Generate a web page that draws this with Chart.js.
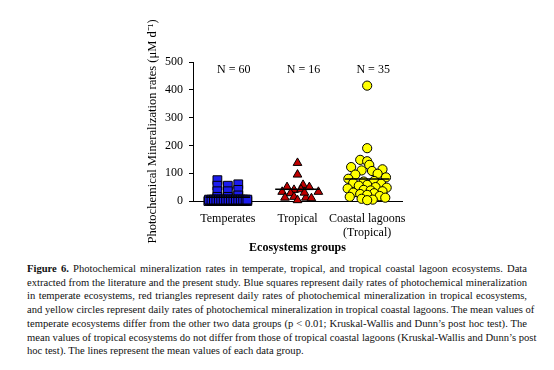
<!DOCTYPE html>
<html>
<head>
<meta charset="utf-8">
<script src="https://cdn.jsdelivr.net/npm/chart.js@4"></script>
<style>
  html, body { margin: 0; padding: 0; background: #ffffff; }
  #wrap { position: absolute; left: 0; top: 0; width: 554px; height: 255px; }
  #caption { position: absolute; left: 27px; top: 262px; width: 500px;
    font-family: "Liberation Serif", "Times New Roman", serif; font-size: 10.6px; line-height: 13.7px; color: #111; }
  #caption div { text-align: justify; text-align-last: justify; white-space: nowrap; }
  #caption div.last { text-align: left; text-align-last: left; }
</style>
</head>
<body>
<div id="wrap"><canvas id="c" width="554" height="255"></canvas></div>
<div id="caption">
  <div><b>Figure 6.</b> Photochemical mineralization rates in temperate, tropical, and tropical coastal lagoon ecosystems. Data</div>
  <div>extracted from the literature and the present study. Blue squares represent daily rates of photochemical mineralization</div>
  <div>in temperate ecosystems, red triangles represent daily rates of photochemical mineralization in tropical ecosystems,</div>
  <div>and yellow circles represent daily rates of photochemical mineralization in tropical coastal lagoons. The mean values of</div>
  <div>temperate ecosystems differ from the other two data groups (p &lt; 0.01; Kruskal-Wallis and Dunn’s post hoc test). The</div>
  <div>mean values of tropical ecosystems do not differ from those of tropical coastal lagoons (Kruskal-Wallis and Dunn’s post</div>
  <div class="last">hoc test). The lines represent the mean values of each data group.</div>
</div>
<script>
// ---- data ----
const categories = ['Temperates', 'Tropical', ['Coastal lagoons', '(Tropical)']];
const nLabels = ['N = 60', 'N = 16', 'N = 35'];
const yTicks = [0, 100, 200, 300, 400, 500];
const groupMeans = [14, 42, 79];

// Temperate ecosystems (60 values) and their horizontal jitter within the group
const temperateValues = [
  75, 55, 35, 15,
  55, 35, 15,
  60, 40, 20,
  0, 0, 0, 0, 0, 0, 0, 0, 0, 0, 0, 0, 0, 0, 0, 0, 0,
  2, 2, 2, 2, 2, 2, 2, 2, 2, 2, 2, 2, 2, 2, 2, 2,
  5, 5, 5, 5, 5, 5, 5, 5, 5, 5, 5, 5, 5, 5, 5, 5, 5
];
const temperateJitter = [
  -0.15, -0.15, -0.15, -0.15,
  0, 0, 0,
  0.15, 0.15, 0.15,
  -0.28, -0.245, -0.21, -0.175, -0.14, -0.105, -0.07, -0.035, 0, 0.035, 0.07, 0.105, 0.14, 0.175, 0.21, 0.245, 0.28,
  -0.26, -0.225, -0.19, -0.155, -0.12, -0.085, -0.05, -0.015, 0.02, 0.055, 0.09, 0.125, 0.16, 0.195, 0.23, 0.265,
  -0.27, -0.235, -0.2, -0.165, -0.13, -0.095, -0.06, -0.025, 0.01, 0.045, 0.08, 0.115, 0.15, 0.185, 0.22, 0.255, 0.28
];

// Tropical ecosystems (16 values)
const tropicalValues = [137, 95, 50, 58, 50, 33, 40, 42, 33, 28, 12, 15, 3, 12, 10, 30];
const tropicalJitter = [0, 0, -0.15, 0.08, 0.17, -0.22, -0.05, 0.05, 0.3, -0.1, -0.18, -0.05, 0, 0.12, 0.2, 0.1];

// Tropical coastal lagoons (35 values)
const lagoonValues = [415, 190, 148, 143, 130, 122, 114, 110, 108, 98, 95, 85, 80, 72, 70, 65, 62, 58,
  55, 50, 48, 45, 40, 38, 35, 30, 28, 25, 22, 18, 15, 12, 8, 5, 3];
const lagoonJitter = [0, 0, -0.1, 0, 0.03, -0.23, 0.22, -0.08, 0.07, 0.15, -0.17, 0.27, -0.27, 0.1, -0.05,
  -0.2, 0.2, 0, -0.12, 0.12, 0.28, -0.28, -0.05, 0.05, 0.22, -0.2, 0.1, -0.1, 0, 0.18, -0.25, 0.26, -0.08, 0.08, 0];

const meanHalfWidth = 0.32;

// ---- build datasets ----
function pts(values, jitter, groupIndex) {
  return values.map((v, i) => ({ x: groupIndex + 1 + jitter[i], y: v }));
}
function meanLine(g) {
  return [{ x: g + 1 - meanHalfWidth, y: groupMeans[g] }, { x: g + 1 + meanHalfWidth, y: groupMeans[g] }];
}

const serif = '"Liberation Serif", "Times New Roman", serif';

const nLabelPlugin = {
  id: 'nLabels',
  afterDatasetsDraw(chart) {
    const ctx = chart.ctx, xs = chart.scales.x, ys = chart.scales.y;
    ctx.save();
    ctx.font = '12px ' + serif;
    ctx.fillStyle = '#000';
    ctx.textAlign = 'center';
    ctx.textBaseline = 'middle';
    nLabels.forEach((t, i) => {
      ctx.fillText(t, xs.getPixelForValue(i + 1) + 6, ys.top + 8);
    });
    ctx.restore();
  }
};

const pointStyleCommon = { showLine: false, borderColor: '#000', borderWidth: 1, clip: false, order: 2 };

new Chart(document.getElementById('c'), {
  type: 'scatter',
  data: {
    datasets: [
      { data: meanLine(0), type: 'line', borderColor: '#000', borderWidth: 1.6, pointRadius: 0, clip: false, order: 0 },
      { data: meanLine(1), type: 'line', borderColor: '#000', borderWidth: 1.6, pointRadius: 0, clip: false, order: 0 },
      { data: meanLine(2), type: 'line', borderColor: '#000', borderWidth: 1.6, pointRadius: 0, clip: false, order: 0 },
      Object.assign({ data: pts(temperateValues, temperateJitter, 0), backgroundColor: '#1c1cee', pointStyle: 'rect', pointRadius: 6.2 }, pointStyleCommon),
      Object.assign({ data: pts(tropicalValues, tropicalJitter, 1), backgroundColor: '#c00000', pointStyle: 'triangle', pointRadius: 5 }, pointStyleCommon),
      Object.assign({ data: pts(lagoonValues, lagoonJitter, 2), backgroundColor: '#ffff00', pointStyle: 'circle', pointRadius: 4.6 }, pointStyleCommon)
    ]
  },
  options: {
    responsive: false,
    animation: false,
    events: [],
    layout: { padding: { left: 145, right: 152, top: 62, bottom: 0 } },
    plugins: { legend: { display: false }, tooltip: { enabled: false } },
    scales: {
      x: {
        type: 'linear', min: 0.5, max: 3.5,
        afterBuildTicks(scale) { scale.ticks = categories.map((c, i) => ({ value: i + 1 })); },
        afterFit(scale) { scale.height = 54; },
        grid: { display: false },
        border: { display: true, color: '#000', width: 1 },
        ticks: {
          callback: (v) => categories[Math.round(v) - 1],
          color: '#000', font: { family: serif, size: 12, lineHeight: 1.17 }, padding: 3, maxRotation: 0, autoSkip: false
        },
        title: { display: true, text: 'Ecosystems groups', color: '#000', font: { family: serif, size: 12, weight: 'bold' }, padding: { top: 0, bottom: 0 } }
      },
      y: {
        min: 0, max: 500,
        afterBuildTicks(scale) { scale.ticks = yTicks.map(v => ({ value: v })); },
        afterFit(scale) { scale.width = 48; },
        grid: { drawOnChartArea: false, drawTicks: true, tickLength: 4, color: '#000' },
        border: { display: true, color: '#000', width: 1 },
        ticks: { color: '#000', font: { family: serif, size: 12 }, padding: 6 },
        title: { display: true, text: 'Photochemical Mineralization rates (μM d⁻¹)', color: '#000', font: { family: serif, size: 12.5 }, padding: { top: 0, bottom: 0 } }
      }
    }
  },
  plugins: [nLabelPlugin]
});
</script>
</body>
</html>
